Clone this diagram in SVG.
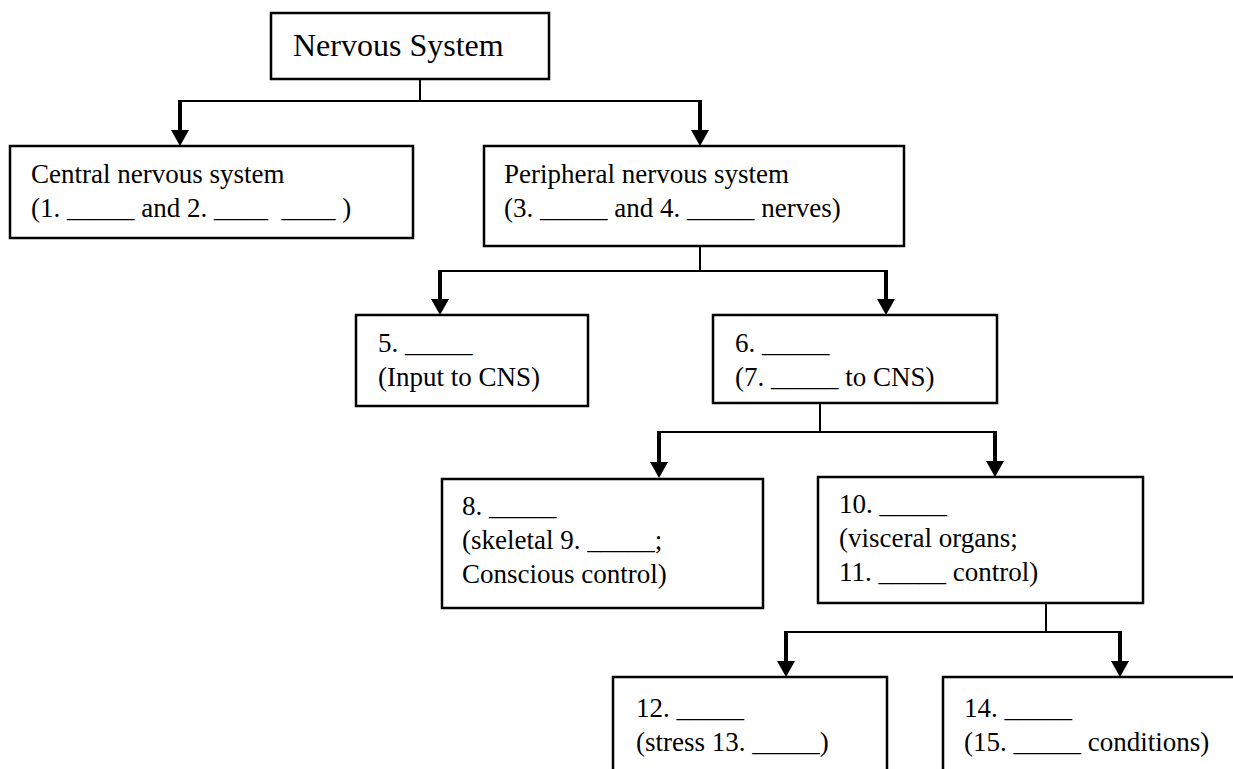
<svg xmlns="http://www.w3.org/2000/svg" width="1233" height="769" viewBox="0 0 1233 769">
<defs>
<style>
.box{fill:#fff;stroke:#000;stroke-width:2.5}
.t{font-size:27px;fill:#000;white-space:pre}
.title{font-size:32px}
.ln{fill:none;stroke:#000;stroke-width:2}
.ar{fill:none;stroke:#000;stroke-width:4;marker-end:url(#ah)}
</style>
<marker id="ah" viewBox="0 0 16 18" markerWidth="16" markerHeight="18" refX="2" refY="9" orient="auto" markerUnits="userSpaceOnUse">
<path d="M0,0 L16,9 L0,18 z" fill="#000"/>
</marker>
</defs>
<rect width="1233" height="769" fill="#fff"/>
<g id="connectors">
<path class="ln" d="M420,79 V101 M180,101 H700"/>
<path class="ar" d="M180,100 V132"/>
<path class="ar" d="M700,100 V132"/>
<path class="ln" d="M700,246 V271 M440,271 H886"/>
<path class="ar" d="M440,270 V301"/>
<path class="ar" d="M886,270 V301"/>
<path class="ln" d="M820,403 V432 M659,432 H995"/>
<path class="ar" d="M659,431 V464"/>
<path class="ar" d="M995,431 V463"/>
<path class="ln" d="M1046,603 V632 M786,632 H1120"/>
<path class="ar" d="M786,631 V663"/>
<path class="ar" d="M1120,631 V663"/>
</g>
<g font-family="'Liberation Serif', 'Times New Roman', 'DejaVu Serif', serif">
<g id="nervous-system">
<rect class="box" x="271" y="13" width="278" height="66"/>
<text class="t title" x="293" y="56">Nervous System</text>
</g>
<g id="cns">
<rect class="box" x="10" y="146" width="403" height="92"/>
<text class="t" x="31" y="183">Central nervous system</text>
<text class="t" x="31" y="217">(1. _____ and 2. ____  ____ )</text>
</g>
<g id="pns">
<rect class="box" x="484" y="146" width="420" height="100"/>
<text class="t" x="504" y="183">Peripheral nervous system</text>
<text class="t" x="504" y="217">(3. _____ and 4. _____ nerves)</text>
</g>
<g id="n5">
<rect class="box" x="356" y="315" width="232" height="91"/>
<text class="t" x="378" y="352">5. _____</text>
<text class="t" x="378" y="386">(Input to CNS)</text>
</g>
<g id="n6">
<rect class="box" x="713" y="315" width="284" height="88"/>
<text class="t" x="735" y="352">6. _____</text>
<text class="t" x="735" y="386">(7. _____ to CNS)</text>
</g>
<g id="n8">
<rect class="box" x="442" y="479" width="321" height="129"/>
<text class="t" x="462" y="515">8. _____</text>
<text class="t" x="462" y="549">(skeletal 9. _____;</text>
<text class="t" x="462" y="583">Conscious control)</text>
</g>
<g id="n10">
<rect class="box" x="818" y="477" width="325" height="126"/>
<text class="t" x="839" y="513">10. _____</text>
<text class="t" x="839" y="547">(visceral organs;</text>
<text class="t" x="839" y="581">11. _____ control)</text>
</g>
<g id="n12">
<rect class="box" x="613" y="677" width="274" height="120"/>
<text class="t" x="636" y="717">12. _____</text>
<text class="t" x="636" y="751">(stress 13. _____)</text>
</g>
<g id="n14">
<rect class="box" x="943" y="677" width="320" height="120"/>
<text class="t" x="964" y="717">14. _____</text>
<text class="t" x="964" y="751">(15. _____ conditions)</text>
</g>
</g>
</svg>
